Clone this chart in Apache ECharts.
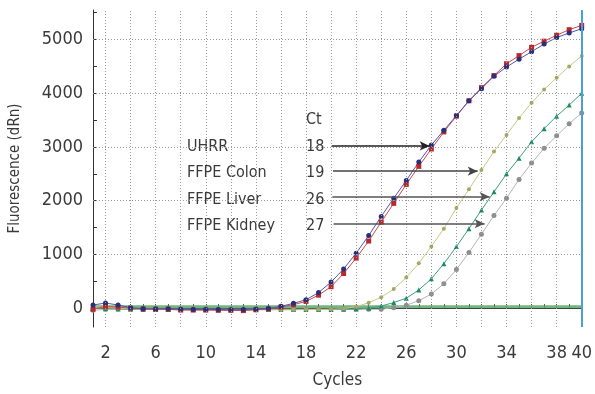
<!DOCTYPE html>
<html>
<head>
<meta charset="utf-8">
<script src="https://cdn.jsdelivr.net/npm/echarts@6/dist/echarts.min.js"></script>
<style>
html,body{margin:0;padding:0;background:#fff;}
#chart{width:595px;height:394px;}
</style>
</head>
<body>
<div id="chart"></div>
<script>
var cycles = [1,2,3,4,5,6,7,8,9,10,11,12,13,14,15,16,17,18,19,20,21,22,23,24,25,26,27,28,29,30,31,32,33,34,35,36,37,38,39,40];
var uhrrA = [60,95,60,10,-10,-15,-10,-20,-25,-25,-25,-30,-25,-20,-5,35,90,157,290,487,730,1023,1352,1707,2048,2377,2720,3036,3311,3585,3860,4086,4317,4489,4635,4775,4915,5038,5122,5202];
var uhrrB = [-20,30,20,0,-15,-20,-20,-35,-35,-35,-40,-40,-45,-30,-15,20,66,126,243,400,646,932,1250,1603,1951,2304,2640,2963,3281,3574,3860,4105,4330,4549,4701,4855,4970,5080,5184,5263];
var colon = [30,10,0,-10,-20,-20,-25,-25,-30,-30,-30,-30,-30,-30,-30,-30,-30,-25,-25,-20,-10,30,100,205,355,570,835,1150,1480,1865,2213,2570,2915,3225,3540,3825,4070,4290,4500,4696];
var liver = [0,-10,-15,-20,-20,-25,-25,-25,-25,-25,-25,-25,-25,-25,-25,-25,-25,-25,-25,-25,-20,-15,0,40,105,185,340,547,829,1146,1480,1828,2165,2500,2793,3098,3342,3574,3781,4000];
var kidney = [-40,-20,-15,-20,-20,-20,-20,-20,-20,-20,-20,-20,-20,-20,-20,-20,-20,-20,-20,-20,-20,-20,-20,-20,10,55,140,262,456,719,1036,1378,1726,2048,2396,2701,2976,3208,3433,3634];
var threshold = 25;
var xLabels = [2,6,10,14,18,22,26,30,34,38,40];
var xGrid = [2,4,6,8,10,12,14,16,18,20,22,24,26,28,30,32,34,36,38];
var yLabels = [0,1000,2000,3000,4000,5000];
var yTicks = [0,500,1000,1500,2000,2500,3000,3500,4000,4500,5000,5500];
var yGrid = [1000,2000,3000,4000,5000];
var sampleNames = ['UHRR','FFPE Colon','FFPE Liver','FFPE Kidney'];
var ctValues = ['18','19','26','27'];
var arrowY = [3020,2551,2075,1573];
var arrowFrom = [20.05,20.15,20.1,20.2];
var arrowTo = [27.87,31.7,32.65,32.25];
var arrowColors = ['#222','#444','#555','#555'];

var FONT = "'Liberation Sans Narrow','DejaVu Sans Condensed','Liberation Sans',sans-serif";
var TXT = '#3a3a3a';

function pairs(arr){ return cycles.map(function(c,i){ return [c, arr[i]]; }); }

var chart = echarts.init(document.getElementById('chart'), null, {renderer:'canvas'});

var gridLines = [];
xGrid.forEach(function(v){ gridLines.push({xAxis:v}); });
yGrid.forEach(function(v){ gridLines.push({yAxis:v}); });

var arrowData = arrowY.map(function(y,i){
  return [{coord:[arrowFrom[i], y], lineStyle:{color:arrowColors[i], width:1.6, type:'solid'}},
          {coord:[arrowTo[i], y]}];
});

var graphics = [];
var rowPx = [147,173,199.5,226];
var annFont = '16px '+FONT;
graphics.push({type:'text', x:306, y:120, style:{text:'Ct', font:annFont, fill:TXT, align:'left', verticalAlign:'middle'}});
sampleNames.forEach(function(n,i){
  graphics.push({type:'text', x:187, y:rowPx[i], style:{text:n, font:annFont, fill:TXT, align:'left', verticalAlign:'middle'}});
  graphics.push({type:'text', x:306, y:rowPx[i], style:{text:ctValues[i], font:annFont, fill:TXT, align:'left', verticalAlign:'middle'}});
});

var option = {
  animation:false,
  backgroundColor:'#fff',
  grid:{left:92, right:10, top:10, bottom:62, containLabel:false},
  xAxis:{
    type:'value', min:1, max:40, interval:1,
    name:'Cycles', nameLocation:'middle', nameGap:45,
    nameTextStyle:{fontFamily:FONT, fontSize:17, color:TXT},
    axisLine:{show:true, lineStyle:{color:'#333', width:1}},
    axisTick:{show:true, inside:true, length:4, lineStyle:{color:'#333'}},
    axisLabel:{margin:17, fontFamily:FONT, fontSize:18, color:TXT,
      formatter:function(v){ return xLabels.indexOf(v) >= 0 ? String(v) : ''; }},
    splitLine:{show:false}
  },
  yAxis:{
    type:'value', min:-350, max:5550,
    name:'Fluorescence (dRn)', nameLocation:'middle', nameGap:70,
    nameTextStyle:{fontFamily:FONT, fontSize:15, color:TXT},
    axisLine:{show:true, lineStyle:{color:'#333', width:1}},
    axisTick:{show:true, inside:true, length:4, lineStyle:{color:'#333'}, customValues:yTicks},
    axisLabel:{margin:10, fontFamily:FONT, fontSize:18, color:TXT, customValues:yLabels,
      formatter:function(v){ return String(v); }},
    splitLine:{show:false}
  },
  graphic:graphics,
  series:[
    {type:'line', name:'grid', data:[], z:1, silent:true,
     markLine:{silent:true, symbol:['none','none'], label:{show:false},
       lineStyle:{color:'#9a9a9a', width:1, type:[1,2]}, data:gridLines}},
    {type:'line', name:'right', data:[], z:2, silent:true,
     markLine:{silent:true, symbol:['none','none'], label:{show:false},
       lineStyle:{color:'#4a9fd4', width:2, type:'solid'}, data:[{xAxis:40}]}},
    {type:'line', name:'Threshold', data:[[1,threshold],[40,threshold]], z:2, silent:true,
     showSymbol:false, lineStyle:{color:'#5aa86a', width:3, opacity:0.85}},
    {type:'line', name:'FFPE Kidney', data:pairs(kidney), z:3, symbol:'circle', symbolSize:5, showAllSymbol:true,
     lineStyle:{color:'#b4b4b4', width:1}, itemStyle:{color:'#8e8e8e'}},
    {type:'line', name:'FFPE Liver', data:pairs(liver), z:3, symbol:'triangle', symbolSize:5, showAllSymbol:true,
     lineStyle:{color:'#3aa07c', width:1}, itemStyle:{color:'#1e8a5e'}},
    {type:'line', name:'FFPE Colon', data:pairs(colon), z:3, symbol:'circle', symbolSize:4, showAllSymbol:true,
     lineStyle:{color:'#c8c88a', width:1}, itemStyle:{color:'#a8a860'}},
    {type:'line', name:'UHRR 2', data:pairs(uhrrB), z:4, symbol:'rect', symbolSize:5, showAllSymbol:true,
     lineStyle:{color:'#d04848', width:1}, itemStyle:{color:'#b8282c'}},
    {type:'line', name:'UHRR', data:pairs(uhrrA), z:4, symbol:'circle', symbolSize:5, showAllSymbol:true,
     lineStyle:{color:'#5058b0', width:1}, itemStyle:{color:'#28307a'}},
    {type:'line', name:'arrows', data:[], z:5, silent:true,
     markLine:{silent:true, symbol:['none','arrow'], symbolSize:[7,10], label:{show:false}, data:arrowData}}
  ]
};
chart.setOption(option);
</script>
</body>
</html>
